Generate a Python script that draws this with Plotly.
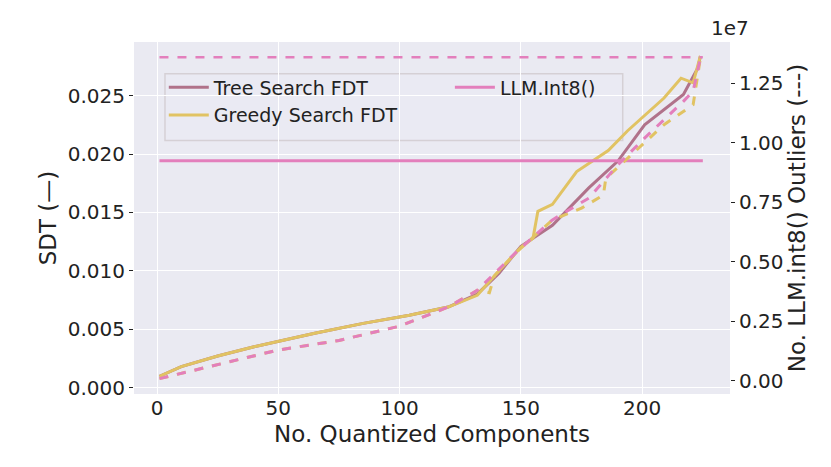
import plotly.graph_objects as go

# SDT (left axis), solid lines
greedy_x = [1, 10, 25, 40, 65, 85, 104, 120, 132, 141, 150, 155, 157, 163, 173, 186, 194, 209, 216, 221, 224]
greedy_sdt = [0.00097, 0.0018, 0.0027, 0.0035, 0.00466, 0.0055, 0.0062, 0.0069, 0.0079, 0.0100, 0.0120, 0.0128, 0.0151, 0.0157, 0.0185, 0.0203, 0.0220, 0.0248, 0.0265, 0.0261, 0.0284]
tree_x = [1, 10, 25, 40, 65, 85, 104, 120, 132, 141, 150, 163, 178, 190, 201, 217, 223, 224]
tree_sdt = [0.00097, 0.0018, 0.0027, 0.0035, 0.00466, 0.0055, 0.0062, 0.0069, 0.0080, 0.0098, 0.0121, 0.0139, 0.0171, 0.0194, 0.0225, 0.0251, 0.0274, 0.0284]
llm_sdt = 0.01943

# outliers (right axis), dashed lines
greedy_out_x = [1, 25, 50, 75, 100, 120, 132, 137, 139, 147, 163, 175, 184, 185, 194, 209, 221, 222, 224]
greedy_out = [0.01e7, 0.07e7, 0.13e7, 0.17e7, 0.23e7, 0.31e7, 0.38e7, 0.37e7, 0.44e7, 0.53e7, 0.676e7, 0.725e7, 0.78e7, 0.85e7, 0.935e7, 1.075e7, 1.159e7, 1.229e7, 1.355e7]
tree_out_x = [1, 25, 50, 75, 100, 120, 132, 147, 163, 178, 190, 201, 217, 221, 224]
tree_out = [0.01e7, 0.07e7, 0.13e7, 0.17e7, 0.23e7, 0.31e7, 0.38e7, 0.53e7, 0.676e7, 0.767e7, 0.907e7, 1.019e7, 1.173e7, 1.216e7, 1.355e7]
llm_out = 1.358e7

YELLOW = "#e1c363"
MAUVE = "#b0728a"
PINK = "#e37fbc"
x_span = [1, 225]

fig = go.Figure()
fig.add_trace(go.Scatter(x=greedy_out_x, y=greedy_out, yaxis="y2", mode="lines",
                         line=dict(color=YELLOW, width=3, dash="dash"), showlegend=False))
fig.add_trace(go.Scatter(x=tree_out_x, y=tree_out, yaxis="y2", mode="lines",
                         line=dict(color=PINK, width=3, dash="dash"), showlegend=False))
fig.add_trace(go.Scatter(x=x_span, y=[llm_out, llm_out], yaxis="y2", mode="lines",
                         line=dict(color=PINK, width=2.5, dash="dash"), showlegend=False))
fig.add_trace(go.Scatter(x=tree_x, y=tree_sdt, mode="lines", name="Tree Search FDT",
                         line=dict(color=MAUVE, width=3), legend="legend"))
fig.add_trace(go.Scatter(x=greedy_x, y=greedy_sdt, mode="lines", name="Greedy Search FDT",
                         line=dict(color=YELLOW, width=3), legend="legend"))
fig.add_trace(go.Scatter(x=x_span, y=[llm_sdt, llm_sdt], mode="lines", name="LLM.Int8()",
                         line=dict(color=PINK, width=3), legend="legend2"))

fig.update_layout(
    width=831, height=467,
    margin=dict(l=126, r=109, t=34, b=81),
    paper_bgcolor="white", plot_bgcolor="#eaeaf2",
    font=dict(family="DejaVu Sans", size=20, color="#222222"),
    showlegend=True,
    xaxis=dict(range=[-9.5, 236.2], tickvals=[0, 50, 100, 150, 200], showgrid=True,
               gridcolor="white", zeroline=False, ticks="", ticklen=0,
               title=dict(text="No. Quantized Components", font=dict(size=23), standoff=6),
               tickfont=dict(size=20)),
    yaxis=dict(range=[-0.00055, 0.0296], tickvals=[0, 0.005, 0.01, 0.015, 0.02, 0.025],
               tickformat=".3f", showgrid=True, gridcolor="white", zeroline=False,
               ticks="outside", ticklen=4, tickcolor="#222222",
               title=dict(text="SDT (—)", font=dict(size=23), standoff=4),
               tickfont=dict(size=20)),
    yaxis2=dict(range=[-0.0546e7, 1.422e7], overlaying="y", side="right",
                tickvals=[0, 0.25e7, 0.5e7, 0.75e7, 1.0e7, 1.25e7],
                ticktext=["0.00", "0.25", "0.50", "0.75", "1.00", "1.25"],
                showgrid=False, zeroline=False, ticks="outside", ticklen=4, tickcolor="#222222",
                title=dict(text="No. LLM.int8() Outliers (---)", font=dict(size=23), standoff=4),
                tickfont=dict(size=20)),
    legend=dict(x=0.05, y=0.925, xanchor="left", yanchor="top", bgcolor="rgba(0,0,0,0)",
                font=dict(size=19), tracegroupgap=0, itemwidth=40),
    legend2=dict(x=0.53, y=0.925, xanchor="left", yanchor="top", bgcolor="rgba(0,0,0,0)",
                 font=dict(size=19), itemwidth=40),
    shapes=[dict(type="rect", xref="paper", yref="paper", x0=0.052, x1=0.82, y0=0.72, y1=0.91,
                 line=dict(color="#d5d0d5", width=1.5), fillcolor="rgba(234,234,242,0.8)", layer="below")],
    annotations=[dict(text="1e7", xref="paper", yref="paper", x=1.0, y=1.0, xanchor="center",
                      yanchor="bottom", showarrow=False, font=dict(size=20))],
)

fig.write_html("out.html")
